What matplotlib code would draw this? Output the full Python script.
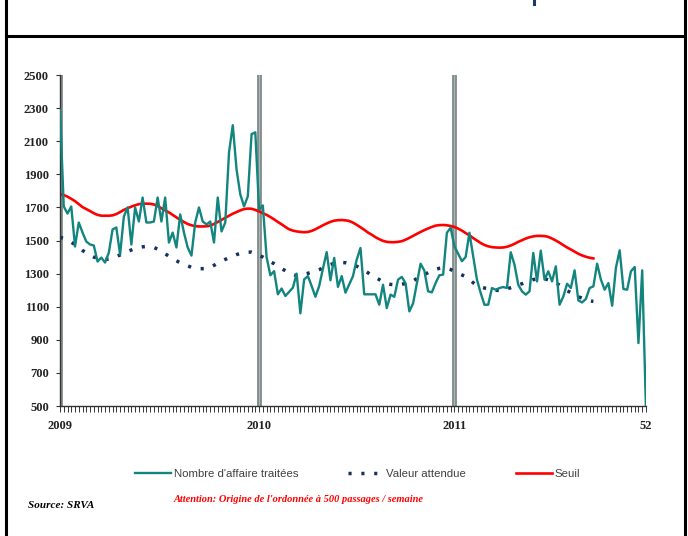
import matplotlib
matplotlib.use('Agg')
import matplotlib.pyplot as plt
from matplotlib.lines import Line2D

# weekly counts, 2009 week 1 to 2011 week 52
weeks = list(range(157))
affaires = [
    2290, 1706, 1663, 1706, 1464, 1609, 1548, 1494, 1476, 1470,
    1373, 1397, 1367, 1427, 1567, 1579, 1415, 1645, 1700, 1476,
    1700, 1615, 1760, 1609, 1609, 1615, 1760, 1615, 1760, 1488,
    1548, 1458, 1658, 1548, 1458, 1409, 1609, 1700, 1615, 1597,
    1615, 1488, 1760, 1555, 1609, 2033, 2197, 1930, 1779, 1706,
    1767, 2143, 2154, 1688, 1712, 1400, 1290, 1315, 1175, 1210,
    1165, 1190, 1215, 1300, 1060, 1265, 1285, 1225, 1160, 1225,
    1330, 1430, 1260, 1395, 1220, 1285, 1185, 1235, 1285, 1385,
    1455, 1175, 1175, 1175, 1175, 1112, 1233, 1092, 1173, 1160,
    1264, 1280, 1242, 1072, 1120, 1240, 1360, 1318, 1193, 1187,
    1243, 1290, 1294, 1547, 1577, 1465, 1420, 1375, 1401, 1547,
    1405, 1264, 1183, 1112, 1112, 1213, 1203, 1213, 1219, 1213,
    1429, 1354, 1233, 1193, 1173, 1193, 1425, 1253, 1439, 1264,
    1314, 1253, 1344, 1112, 1162, 1239, 1213, 1320, 1138, 1126,
    1147, 1213, 1223, 1360, 1264, 1203, 1243, 1106, 1335, 1441,
    1207, 1203, 1314, 1340, 880, 1320, 480,
]

# expected values and alert threshold stop at week 143
attendue = [
    1520, 1512, 1502, 1490, 1475, 1458, 1440, 1425, 1412, 1400,
    1393, 1388, 1385, 1388, 1395, 1403, 1413, 1423, 1433, 1443,
    1452, 1458, 1462, 1464, 1463, 1458, 1448, 1435, 1420, 1405,
    1392, 1378, 1365, 1356, 1347, 1338, 1332, 1330, 1330, 1331,
    1338, 1350, 1363, 1375, 1386, 1396, 1406, 1415, 1422, 1427,
    1430, 1430, 1422, 1412, 1400, 1386, 1372, 1360, 1345, 1330,
    1318, 1306, 1295, 1288, 1290, 1296, 1302, 1308, 1316, 1324,
    1334, 1345, 1355, 1362, 1366, 1367, 1366, 1360, 1355, 1345,
    1332, 1320, 1305, 1290, 1277, 1264, 1250, 1240, 1235, 1233,
    1233, 1236, 1240, 1246, 1256, 1270, 1282, 1294, 1306, 1318,
    1326, 1332, 1336, 1333, 1325, 1313, 1302, 1292, 1282, 1265,
    1245, 1228, 1220, 1213, 1209, 1205, 1200, 1197, 1200, 1208,
    1215, 1223, 1231, 1239, 1248, 1257, 1264, 1268, 1270, 1270,
    1262, 1252, 1245, 1230, 1213, 1197, 1185, 1172, 1160, 1152,
    1144, 1136, 1132,
]

seuil = [
    1780, 1775, 1765, 1752, 1738, 1720, 1702, 1690, 1678, 1665,
    1655, 1650, 1650, 1650, 1652, 1660, 1672, 1685, 1695, 1705,
    1713, 1720, 1722, 1723, 1722, 1718, 1708, 1695, 1682, 1670,
    1655, 1640, 1625, 1612, 1600, 1592, 1587, 1585, 1585, 1586,
    1590, 1600, 1612, 1625, 1637, 1650, 1662, 1672, 1682, 1690,
    1693, 1692, 1685, 1676, 1665, 1655, 1642, 1628, 1612, 1598,
    1582, 1568, 1560, 1555, 1552, 1550, 1552, 1558, 1568, 1580,
    1592, 1603, 1613, 1620, 1623, 1624, 1622, 1618, 1608, 1595,
    1580, 1565, 1548, 1535, 1520, 1508, 1498, 1492, 1490, 1490,
    1492, 1496, 1505, 1516, 1528, 1540, 1552, 1563, 1573, 1582,
    1590, 1593, 1594, 1592, 1588, 1582, 1572, 1560, 1545, 1532,
    1515, 1500, 1485, 1473, 1465, 1460, 1458, 1457, 1458, 1462,
    1470, 1480, 1492, 1502, 1512, 1520, 1525, 1528, 1528, 1527,
    1522, 1512, 1500, 1487, 1472, 1458, 1446, 1433, 1420, 1410,
    1402, 1396, 1392,
]

year_starts = [0, 53, 105]
xtick_pos = [0, 53, 105, 156]
xtick_labels = ['2009', '2010', '2011', '52']
ytick_vals = list(range(500, 2501, 200))

TEAL = '#13857f'
NAVY = '#14325f'
RED = '#ff0000'


def draw_frame(fig):
    '''
    Draws the black page frame around the chart and the title box edge.
    '''
    kw = dict(transform=fig.transFigure, color='black', lw=2.2)
    fig.add_artist(Line2D([0.008, 0.008], [0, 1], **kw))
    fig.add_artist(Line2D([0.9963, 0.9963], [0, 1], **kw))
    fig.add_artist(Line2D([0.008, 0.9963], [0.9328, 0.9328], **kw))
    # tail of the title letter peeking in at the top
    fig.add_artist(Line2D([0.7755, 0.7755], [0.993, 1.0],
                          transform=fig.transFigure, color='#1f3a68',
                          lw=2.2))


def main():
    fig = plt.figure(figsize=(6.88, 5.36), dpi=100)
    ax = fig.add_axes([0.0872, 0.2425, 0.8517, 0.6175])

    # year separators: grey bar with a lighter core
    for x in year_starts:
        ax.axvline(x, color='#7b8484', lw=3.4, zorder=1)
        ax.axvline(x, color='#a7b8b7', lw=1.0, zorder=1)

    ax.plot(weeks, affaires, color=TEAL, lw=1.7, zorder=3,
            label="Nombre d'affaire traitées")
    ax.plot(weeks[:len(attendue)], attendue, color=NAVY, lw=2.5,
            dashes=(0.9, 2.8), dash_capstyle='butt', zorder=2,
            label='Valeur attendue')
    ax.plot(weeks[:len(seuil)], seuil, color=RED, lw=1.9, zorder=2,
            label='Seuil')

    ax.set_xlim(0, 156)
    ax.set_ylim(500, 2500)
    ax.set_yticks(ytick_vals)
    ax.set_xticks(xtick_pos)
    ax.set_xticklabels(xtick_labels)
    ax.set_xticks(weeks, minor=True)

    for side in ['top', 'right']:
        ax.spines[side].set_visible(False)
    for side in ['left', 'bottom']:
        ax.spines[side].set_color('#333333')
        ax.spines[side].set_linewidth(1.0)

    tick_font = dict(family='Liberation Serif', weight='bold', size=9)
    ax.tick_params(axis='y', length=3, width=0.8, color='#333333',
                   pad=5, labelcolor='#222222')
    ax.tick_params(axis='x', which='both', length=4, width=0.7,
                   color='#333333', pad=6, labelcolor='#222222')
    for lab in ax.get_xticklabels() + ax.get_yticklabels():
        lab.set_fontproperties(tick_font)

    leg = fig.legend(loc='center', bbox_to_anchor=(0.52, 0.1157), ncol=3,
                     frameon=False, handlelength=3.1, handletextpad=0.25,
                     columnspacing=4.4, borderpad=0,
                     prop=dict(family='Liberation Sans', size=8.2))
    for t in leg.get_texts():
        t.set_color('#404040')

    fig.text(0.2515, 0.0672,
             "Attention: Origine de l'ordonnée à 500 passages / semaine",
             color=RED, family='Liberation Serif', weight='bold',
             style='italic', size=7.5, va='center', ha='left')
    fig.text(0.0407, 0.056, 'Source: SRVA', color='black',
             family='Liberation Serif', weight='bold', style='italic',
             size=8, va='center', ha='left')

    draw_frame(fig)
    fig.savefig('out.png', dpi=100)


if __name__ == '__main__':
    main()
